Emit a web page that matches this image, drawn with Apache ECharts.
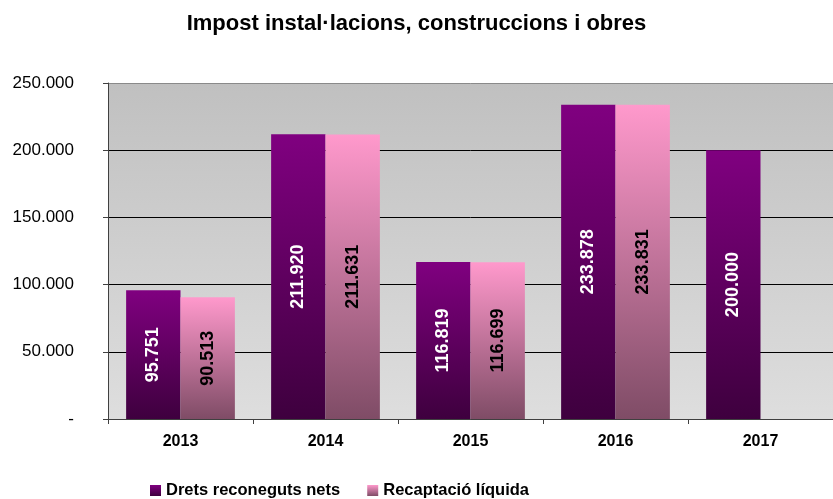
<!DOCTYPE html>
<html>
<head>
<meta charset="utf-8">
<script src="https://cdn.jsdelivr.net/npm/echarts@6/dist/echarts.min.js"></script>
<style>
    html, body { margin: 0; padding: 0; background: #fff; }
    #chart { width: 833px; height: 499px; }
</style>
</head>
<body>
<div id="chart"></div>
<script>
const years = ['2013', '2014', '2015', '2016', '2017']
const drets = [95751, 211920, 116819, 233878, 200000]
const recaptacio = [90513, 211631, 116699, 233831, null]
const seriesNames = ['Drets reconeguts nets', 'Recaptació líquida']

const fmt = v => String(Math.round(v)).replace(/\B(?=(\d{3})+(?!\d))/g, '.')
const grad = (top, bottom) => new echarts.graphic.LinearGradient(0, 0, 0, 1, [
    { offset: 0, color: top },
    { offset: 1, color: bottom }
])
const font = '"Liberation Sans", Arial, sans-serif'

const chart = echarts.init(document.getElementById('chart'))
chart.setOption({
    animation: false,
    textStyle: { fontFamily: font },
    title: {
        text: 'Impost instal·lacions, construccions i obres',
        left: 'center',
        top: 8,
        textStyle: { fontSize: 22, fontWeight: 'bold', color: '#000', fontFamily: font }
    },
    grid: {
        left: 108,
        right: -10,
        top: 83,
        bottom: 80,
        show: true,
        borderWidth: 0,
        backgroundColor: grad('#c0c0c0', '#dedede')
    },
    legend: {
        left: 145,
        top: 477,
        itemWidth: 11,
        itemHeight: 11,
        itemGap: 27,
        icon: 'rect',
        textStyle: { fontSize: 16.5, fontWeight: 'bold', color: '#000', fontFamily: font }
    },
    xAxis: {
        type: 'category',
        data: years,
        axisLine: { lineStyle: { color: '#404040', width: 1 } },
        axisTick: { show: true, length: 5, lineStyle: { color: '#404040' } },
        axisLabel: { fontSize: 16, fontWeight: 'bold', color: '#000', margin: 15 }
    },
    yAxis: {
        type: 'value',
        min: 0,
        max: 250000,
        interval: 50000,
        axisLine: { show: true, lineStyle: { color: '#404040' } },
        axisTick: { show: true, length: 5, lineStyle: { color: '#404040' } },
        axisLabel: {
            fontSize: 17,
            color: '#000',
            margin: 34,
            formatter: v => v === 0 ? '-' : fmt(v)
        },
        splitLine: { lineStyle: { color: ['#404040', '#000', '#000', '#000', '#000', '#8a8a8a'], width: 1 } }
    },
    series: [
        {
            name: seriesNames[0],
            type: 'bar',
            data: drets,
            barGap: '0%',
            barCategoryGap: '25%',
            itemStyle: { color: grad('#800080', '#3e003e') },
            label: {
                show: true,
                position: 'inside',
                rotate: 90,
                fontSize: 18,
                fontWeight: 'bold',
                color: '#fff',
                formatter: p => fmt(p.value)
            }
        },
        {
            name: seriesNames[1],
            type: 'bar',
            data: recaptacio,
            itemStyle: { color: grad('#ff99cc', '#7f4c66') },
            label: {
                show: true,
                position: 'inside',
                rotate: 90,
                fontSize: 18,
                fontWeight: 'bold',
                color: '#000',
                formatter: p => fmt(p.value)
            }
        }
    ]
})
</script>
</body>
</html>
